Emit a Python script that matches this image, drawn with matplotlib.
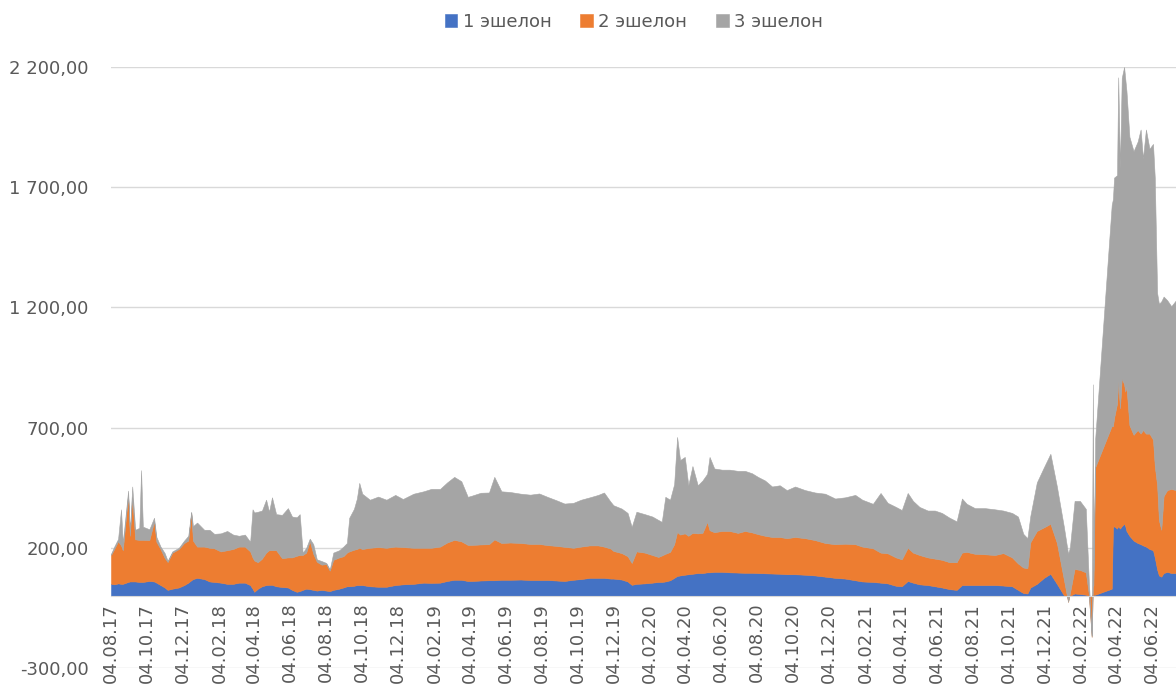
import numpy as np
import pandas as pd
import matplotlib
matplotlib.use('Agg')
import matplotlib.pyplot as plt

# volumes by echelon (approximate)
dates = [
    '2017-08-04', '2017-08-10', '2017-08-16', '2017-08-21', '2017-08-24', '2017-09-02',
    '2017-09-05', '2017-09-09', '2017-09-14', '2017-09-21', '2017-09-24', '2017-09-27',
    '2017-10-08', '2017-10-16', '2017-10-20', '2017-10-27', '2017-11-03', '2017-11-08',
    '2017-11-16', '2017-11-27', '2017-12-06', '2017-12-13', '2017-12-18', '2017-12-21',
    '2017-12-28', '2018-01-09', '2018-01-18', '2018-01-26', '2018-02-06', '2018-02-17',
    '2018-02-27', '2018-03-09', '2018-03-19', '2018-03-28', '2018-04-01', '2018-04-04',
    '2018-04-10', '2018-04-17', '2018-04-24', '2018-04-29', '2018-05-04', '2018-05-11',
    '2018-05-21', '2018-05-31', '2018-06-07', '2018-06-15', '2018-06-20', '2018-06-25',
    '2018-07-01', '2018-07-07', '2018-07-13', '2018-07-19', '2018-07-27', '2018-08-04',
    '2018-08-10', '2018-08-16', '2018-08-26', '2018-09-02', '2018-09-08', '2018-09-12',
    '2018-09-20', '2018-09-25', '2018-09-29', '2018-10-04', '2018-10-17', '2018-10-31',
    '2018-11-14', '2018-11-29', '2018-12-12', '2018-12-30', '2019-01-16', '2019-01-29',
    '2019-02-13', '2019-02-25', '2019-03-09', '2019-03-21', '2019-04-01', '2019-04-08',
    '2019-04-23', '2019-05-07', '2019-05-16', '2019-05-28', '2019-06-12', '2019-06-30',
    '2019-07-16', '2019-07-31', '2019-08-15', '2019-08-29', '2019-09-12', '2019-09-27',
    '2019-10-10', '2019-10-25', '2019-11-08', '2019-11-18', '2019-11-29', '2019-12-04',
    '2019-12-18', '2019-12-28', '2020-01-04', '2020-01-12', '2020-01-26', '2020-02-08',
    '2020-02-18', '2020-02-24', '2020-03-01', '2020-03-09', '2020-03-16', '2020-03-21',
    '2020-03-26', '2020-04-03', '2020-04-09', '2020-04-16', '2020-04-25', '2020-05-03',
    '2020-05-11', '2020-05-15', '2020-05-23', '2020-06-05', '2020-06-18', '2020-07-02',
    '2020-07-14', '2020-07-26', '2020-08-05', '2020-08-17', '2020-08-29', '2020-09-11',
    '2020-09-23', '2020-10-07', '2020-10-24', '2020-11-10', '2020-11-27', '2020-12-14',
    '2020-12-31', '2021-01-17', '2021-01-29', '2021-02-16', '2021-03-01', '2021-03-13',
    '2021-03-27', '2021-04-06', '2021-04-16', '2021-04-25', '2021-05-06', '2021-05-20',
    '2021-06-01', '2021-06-13', '2021-06-26', '2021-07-08', '2021-07-17', '2021-07-25',
    '2021-08-08', '2021-08-25', '2021-09-11', '2021-09-25', '2021-10-10', '2021-10-20',
    '2021-10-29', '2021-11-05', '2021-11-10', '2021-11-21', '2021-12-03', '2021-12-14',
    '2021-12-25', '2022-01-06', '2022-01-13', '2022-01-16', '2022-01-24', '2022-02-02',
    '2022-02-12', '2022-02-17', '2022-02-22', '2022-02-24', '2022-02-25', '2022-02-28',
    '2022-03-28', '2022-03-30', '2022-04-01', '2022-04-06', '2022-04-08', '2022-04-11',
    '2022-04-14', '2022-04-18', '2022-04-20', '2022-04-22', '2022-04-27', '2022-05-04',
    '2022-05-11', '2022-05-16', '2022-05-20', '2022-05-25', '2022-05-31', '2022-06-06',
    '2022-06-09', '2022-06-13', '2022-06-16', '2022-06-20', '2022-06-24', '2022-06-30',
    '2022-07-07', '2022-07-15',
]
echelon1 = [
    50, 48, 52, 50, 50, 58, 60, 60, 60, 58, 58, 58,
    62, 60, 55, 45, 35, 25, 30, 35, 45, 55, 65, 70,
    75, 70, 60, 58, 55, 50, 50, 55, 55, 45, 30, 17,
    30, 40, 45, 46, 46, 40, 37, 35, 25, 17, 20, 25,
    30, 28, 25, 22, 25, 22, 20, 25, 30, 35, 40, 40,
    42, 45, 45, 45, 40, 38, 38, 45, 48, 50, 55, 54,
    55, 62, 67, 67, 62, 62, 64, 65, 65, 67, 67, 68,
    66, 66, 66, 64, 62, 67, 70, 75, 75, 75, 72, 72,
    68, 60, 46, 50, 52, 55, 58, 58, 60, 65, 75, 83,
    85, 88, 90, 92, 95, 95, 98, 98, 100, 100, 98, 97,
    96, 96, 95, 94, 93, 92, 90, 90, 88, 85, 80, 75,
    72, 65, 60, 58, 55, 52, 42, 40, 62, 55, 48, 45,
    40, 35, 28, 25, 45, 45, 45, 45, 45, 43, 40, 25,
    12, 10, 35, 50, 75, 92, 50, 2, 0, 0, 10, 8,
    5, 0, 0, 5, 5, 5, 30, 285, 290, 280, 290, 280,
    290, 300, 290, 270, 250, 230, 220, 215, 210, 205, 195, 190,
    160, 110, 85, 80, 95, 100, 95, 95,
]
echelon2 = [
    120, 150, 175, 160, 140, 360, 190, 350, 175, 175, 175, 175,
    170, 250, 170, 150, 123, 116, 150, 160, 175, 175, 280, 160,
    130, 135, 140, 140, 130, 140, 145, 150, 150, 140, 130, 130,
    110, 115, 135, 144, 144, 150, 120, 125, 135, 150, 150, 145,
    150, 200, 150, 120, 105, 110, 85, 125, 130, 130, 140, 145,
    150, 150, 155, 150, 160, 165, 162, 160, 155, 150, 145, 146,
    150, 160, 166, 160, 150, 150, 150, 150, 170, 153, 155, 152,
    150, 150, 145, 144, 142, 133, 135, 135, 135, 130, 125, 115,
    110, 105, 91, 135, 128, 115, 104, 110, 115, 118, 140, 183,
    170, 172, 160, 170, 165, 167, 210, 175, 165, 170, 172, 165,
    174, 168, 162, 156, 152, 153, 150, 155, 152, 147, 140, 140,
    145, 150, 145, 140, 125, 125, 118, 112, 138, 125, 122, 115,
    115, 115, 112, 115, 135, 138, 130, 128, 125, 135, 120, 110,
    106, 105, 188, 220, 210, 208, 170, 64, -25, 10, 102, 100,
    93, 10, -170, 30, 40, 530, 677, 420, 450, 520, 604, 500,
    615, 580, 560, 600, 460, 440, 470, 460, 480, 470, 480, 460,
    380, 350, 230, 195, 320, 340, 350, 345,
]
echelon3 = [
    5, 10, 10, 150, 30, 20, 20, 45, 40, 50, 290, 55,
    45, 15, 20, 10, 20, 5, 5, 5, 10, 20, 5, 60,
    100, 70, 75, 60, 75, 80, 60, 45, 50, 40, 200, 200,
    210, 200, 220, 160, 220, 150, 180, 205, 170, 160, 170, 10,
    20, 10, 40, 10, 15, 5, 5, 30, 30, 40, 40, 140,
    170, 210, 270, 230, 200, 210, 200, 215, 200, 225, 235, 245,
    240, 250, 262, 250, 200, 205, 215, 215, 260, 215, 210, 205,
    205, 210, 200, 190, 180, 187, 195, 200, 210, 225, 195, 190,
    185, 180, 150, 165, 160, 160, 154, 140, 237, 217, 250, 395,
    310, 318, 210, 278, 200, 218, 200, 305, 265, 255, 255, 258,
    250, 246, 238, 230, 210, 215, 200, 210, 200, 198, 205, 190,
    193, 205, 195, 185, 248, 210, 210, 205, 228, 215, 200, 195,
    200, 195, 185, 170, 225, 200, 190, 192, 190, 177, 185, 195,
    140, 125, 110, 202, 250, 291, 235, 219, 200, 190, 283, 287,
    264, 60, 5, 845, 60, 120, 920, 945, 1000, 950, 1263, 1000,
    1250, 1320, 1300, 1230, 1200, 1180, 1200, 1265, 1130, 1265, 1185, 1230,
    1200, 800, 900, 950, 830, 790, 760, 790,
]
series_names = ['1 эшелон', '2 эшелон', '3 эшелон']
series_colors = ['#4472C4', '#ED7D31', '#A5A5A5']
y_ticks = [-300, 200, 700, 1200, 1700, 2200]
y_tick_labels = ['-300,00', '200,00', '700,00', '1 200,00', '1 700,00', '2 200,00']

x = pd.to_datetime(dates)
x_ticks = pd.date_range('2017-08-04', periods=30, freq=pd.DateOffset(months=2))

fig = plt.figure(figsize=(11.76, 6.88), dpi=100)
ax = fig.add_axes([111/1176, 20/688, 1065/1176, 601/688])

ax.stackplot(x, echelon1, echelon2, echelon3, colors=series_colors,
             labels=series_names, linewidth=0.4, edgecolor='face')

ax.set_xlim(pd.Timestamp('2017-08-04'), pd.Timestamp('2022-07-15'))
ax.set_ylim(-300, 2200)
ax.set_yticks(y_ticks)
ax.set_yticklabels(y_tick_labels)
ax.set_xticks(x_ticks)
ax.set_xticklabels([d.strftime('%d.%m.%y') for d in x_ticks])

ax.yaxis.grid(True, color='#D9D9D9', linewidth=1)
ax.set_axisbelow(True)
for s in ['left', 'right', 'top']:
    ax.spines[s].set_visible(False)
ax.spines['bottom'].set_position(('data', 0))
ax.spines['bottom'].set_color('#D9D9D9')
ax.tick_params(axis='y', length=0, pad=16, labelsize=13, labelcolor='#595959')
ax.tick_params(axis='x', length=0, pad=5, labelsize=13, labelcolor='#595959',
               labelrotation=90)

fig.legend(loc='center', bbox_to_anchor=(0.539, 0.968), ncol=3, frameon=False,
           handlelength=0.7, handleheight=0.7, handletextpad=0.3,
           columnspacing=1.6, fontsize=13, labelcolor='#595959')

fig.savefig('out.png', dpi=100)
